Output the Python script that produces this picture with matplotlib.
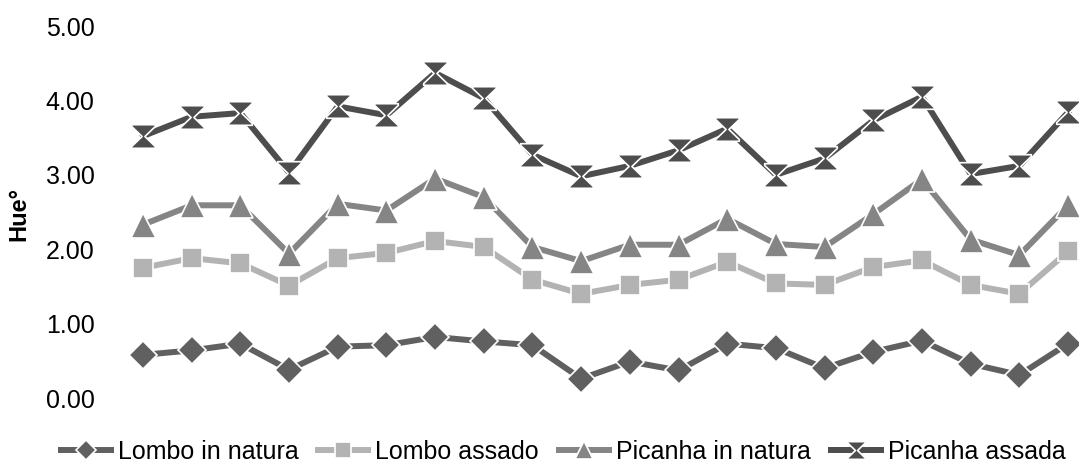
import matplotlib
matplotlib.use("Agg")
import matplotlib.pyplot as plt
import numpy as np
from matplotlib.path import Path

plt.rcParams['font.family'] = ['Liberation Sans', 'DejaVu Sans']

samples = list(range(1, 21))
lombo_in_natura = [0.58, 0.64, 0.73, 0.38, 0.69, 0.71, 0.82, 0.76, 0.71, 0.26,
                   0.49, 0.37, 0.73, 0.67, 0.40, 0.62, 0.77, 0.46, 0.31, 0.73]
lombo_assado = [1.75, 1.88, 1.81, 1.51, 1.88, 1.95, 2.11, 2.03, 1.59, 1.40,
                1.52, 1.59, 1.83, 1.54, 1.52, 1.76, 1.85, 1.52, 1.40, 1.97]
picanha_in_natura = [2.33, 2.59, 2.59, 1.94, 2.61, 2.52, 2.95, 2.70, 2.03, 1.84,
                     2.06, 2.06, 2.41, 2.07, 2.03, 2.47, 2.94, 2.13, 1.92, 2.59]
picanha_assada = [3.52, 3.78, 3.83, 3.03, 3.92, 3.80, 4.37, 4.03, 3.27, 2.98,
                  3.12, 3.33, 3.62, 3.00, 3.22, 3.73, 4.05, 3.01, 3.12, 3.84]
series_names = ["Lombo in natura", "Lombo assado", "Picanha in natura", "Picanha assada"]
y_ticks = [0, 1, 2, 3, 4, 5]

hourglass = Path([(-1, 1), (1, 1), (1, 0.85), (0.12, 0), (1, -0.85), (1, -1),
                  (-1, -1), (-1, -0.85), (-0.12, 0), (-1, 0.85), (-1, 1)],
                 [Path.MOVETO] + [Path.LINETO] * 9 + [Path.CLOSEPOLY])

W, H = 1079, 462
fig = plt.figure(figsize=(W / 100, H / 100), dpi=100)
ax = fig.add_axes([100 / W, 64 / H, (W - 100) / W, 372 / H])

styles = [
    dict(color='#606060', marker='D', ms=14),
    dict(color='#b3b3b3', marker='s', ms=15),
    dict(color='#858585', marker='^', ms=18),
    dict(color='#4d4d4d', marker=hourglass, ms=17),
]
data = [lombo_in_natura, lombo_assado, picanha_in_natura, picanha_assada]
x = np.arange(len(samples))
for name, vals, st in zip(series_names, data, styles):
    ax.plot(x, vals, color=st['color'], lw=4.3, marker=st['marker'], ms=st['ms'],
            markerfacecolor=st['color'], markeredgecolor='white', markeredgewidth=1.2,
            label=name, solid_joinstyle='miter')

ax.set_xlim(-(143 - 100) / 48.7, 19 + (1079 - 1068) / 48.7)
ax.set_ylim(0, 5)
ax.set_yticks(y_ticks)
ax.set_yticklabels([f"{v:.2f}" for v in y_ticks], fontsize=18)
ax.set_xticks([])
ax.tick_params(axis='y', length=0, pad=4)
for s in ax.spines.values():
    s.set_visible(False)

fig.text(19 / W, 1 - 214 / H, "Hue°", rotation=90, fontsize=17, fontweight='bold',
         ha='center', va='center')

leg = fig.legend(loc='center', bbox_to_anchor=(563 / W, 10 / H), ncol=4, frameon=False,
                 fontsize=18, handlelength=2.0, handletextpad=0.28, columnspacing=0.8,
                 markerscale=0.75, borderaxespad=0, borderpad=0)

fig.savefig("out.png", dpi=100)
